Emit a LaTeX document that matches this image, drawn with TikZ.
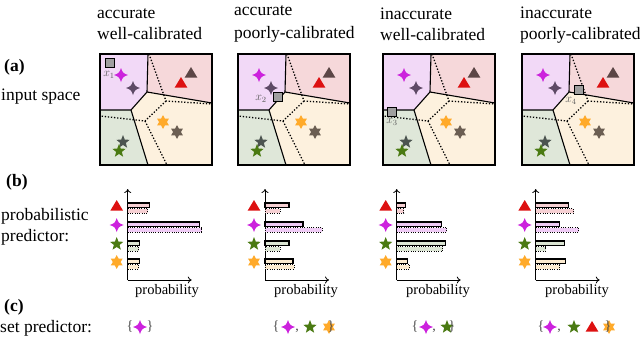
\documentclass[tikz,border=0pt]{standalone}
\usepackage{fontspec}
\setmainfont{Liberation Serif}
\usetikzlibrary{arrows.meta}
\definecolor{rPur}{HTML}{F2D9F7}
\definecolor{rPink}{HTML}{F6D8DA}
\definecolor{rGrn}{HTML}{DFE7D9}
\definecolor{rCrm}{HTML}{FDF1DE}
\definecolor{cMag}{HTML}{CC22DD}
\definecolor{cDPur}{HTML}{5E4A66}
\definecolor{cRed}{HTML}{DD1111}
\definecolor{cDTri}{HTML}{5C4646}
\definecolor{cOra}{HTML}{FFAA2A}
\definecolor{cDOra}{HTML}{6B5E52}
\definecolor{cGrn}{HTML}{4A7A12}
\definecolor{cDGrn}{HTML}{4C5450}
\definecolor{bTri}{HTML}{F6D0D3}
\definecolor{bFour}{HTML}{EFCBF5}
\definecolor{bFive}{HTML}{DCE6D4}
\definecolor{bSix}{HTML}{FCEBD0}
\newcommand\mkFour[2]{\fill[#2,shift={(#1)}] (0,-7) .. controls (1.9,-1.9) .. (7,0) .. controls (1.9,1.9) .. (0,7) .. controls (-1.9,1.9) .. (-7,0) .. controls (-1.9,-1.9) .. cycle;}
\newcommand\mkFive[2]{\fill[#2,shift={(#1)}] (-90:7)--(-54:3)--(-18:7)--(18:3)--(54:7)--(90:3)--(126:7)--(162:3)--(198:7)--(234:3)--cycle;}
\newcommand\mkSix[2]{\fill[#2,shift={(#1)}] (-90:6.9)--(-60:3.9)--(-30:6.9)--(0:3.9)--(30:6.9)--(60:3.9)--(90:6.9)--(120:3.9)--(150:6.9)--(180:3.9)--(210:6.9)--(240:3.9)--cycle;}
\newcommand\mkTri[2]{\fill[#2,shift={(#1)}] (0,-6)--(6.3,4.5)--(-6.3,4.5)--cycle;}
\newcommand\mkSq[1]{\draw[fill=gray!75,line width=0.8pt,shift={(#1)}] (-4.5,-4.5) rectangle (4.5,4.5);}
\newcommand\regionpanel[1]{%
\begin{scope}[shift={(#1,54)}]
\fill[rPur] (0,0)--(48,0)--(47,38)--(31,56)--(0,56)--cycle;
\fill[rPink] (48,0)--(112,0)--(112,49)--(47,38)--cycle;
\fill[rGrn] (0,56)--(31,56)--(48,111)--(0,111)--cycle;
\fill[rCrm] (47,38)--(112,49)--(112,111)--(48,111)--(31,56)--cycle;
\draw[dotline] (49,0)--(66,47)--(112,50);
\draw[dotline] (66,47)--(45,67)--(0,62);
\draw[dotline] (45,67)--(67,111);
\draw[solidline] (48,0)--(47,38)--(112,49);
\draw[solidline] (47,38)--(31,56)--(0,56);
\draw[solidline] (31,56)--(48,111);
\mkFour{21,21}{cMag}
\mkFour{33,34}{cDPur}
\mkTri{91,19}{cDTri}
\mkTri{81,29}{cRed}
\mkSix{63,68}{cOra}
\mkSix{77,78}{cDOra}
\mkFive{23,88}{cDGrn}
\mkFive{19,97}{cGrn}
\draw[line width=1.2pt] (0,0) rectangle (112,111);
\end{scope}}
\newcommand\probchart[9]{%
\begin{scope}[shift={(#1,0)}]
\draw[axisline] (0,280)--(0,189);
\draw[axisline] (0,280)--(64,280);
\mkTri{-11,206}{cRed}
\mkFour{-11,225}{cMag}
\mkFive{-11,244}{cGrn}
\mkSix{-11,262}{cOra}
\draw[dbar,fill=bTri] (0,208.5) rectangle (#3,213);
\draw[sbar,fill=bTri] (0,203) rectangle (#2,207.5);
\draw[dbar,fill=bFour] (0,227.5) rectangle (#5,232);
\draw[sbar,fill=bFour] (0,222) rectangle (#4,226.5);
\draw[dbar,fill=bFive] (0,246.5) rectangle (#7,251);
\draw[sbar,fill=bFive] (0,241) rectangle (#6,245.5);
\draw[dbar,fill=bSix] (0,264.5) rectangle (#9,269);
\draw[sbar,fill=bSix] (0,259) rectangle (#8,263.5);
\end{scope}}
\tikzset{
  txt/.style={inner sep=0pt, font=\fontsize{17.5}{20}\selectfont},
  plab/.style={inner sep=0pt, font=\fontsize{14.5}{16}\selectfont},
  xlab/.style={inner sep=0pt, text=black!65, font=\fontsize{12}{13}\selectfont},
  brace/.style={inner sep=0pt, text=black!70, font=\fontsize{14}{16}\selectfont},
  dotline/.style={line width=1.3pt, dash pattern=on 1.3pt off 1.8pt},
  solidline/.style={line width=1.1pt},
  axisline/.style={line width=0.8pt, -{To[length=4pt,width=7pt]}},
  sbar/.style={line width=1.1pt},
  dbar/.style={line width=1pt, dash pattern=on 1pt off 1.3pt}
}
\begin{document}
\begin{tikzpicture}[x=1pt,y=-1pt]
\useasboundingbox (0,0) rectangle (640,338);
% titles
\node[txt,anchor=base west] (t1a) at (97,18) {accurate};
\node[txt,anchor=base west] (t1b) at (97,39) {well-calibrated};
\node[txt,anchor=base west] (t2a) at (234,15) {accurate};
\node[txt,anchor=base west] (t2b) at (234,38) {poorly-calibrated};
\node[txt,anchor=base west] (t3a) at (380,19) {inaccurate};
\node[txt,anchor=base west] (t3b) at (380,40) {well-calibrated};
\node[txt,anchor=base west] (t4a) at (520,18) {inaccurate};
\node[txt,anchor=base west] (t4b) at (520,39) {poorly-calibrated};
% left labels
\node[txt,anchor=base west] (la) at (4,71) {\textbf{(a)}};
\node[txt,anchor=base west] (li) at (1,100) {input space};
\node[txt,anchor=base west] (lb) at (6,186) {\textbf{(b)}};
\node[txt,anchor=base west] (lp1) at (1,220) {probabilistic};
\node[txt,anchor=base west] (lp2) at (1,241) {predictor:};
\node[txt,anchor=base west] (lc) at (4,311) {\textbf{(c)}};
\node[txt,anchor=base west] (ls) at (0,332) {set predictor:};
% input space panels
\regionpanel{100}
\regionpanel{238}
\regionpanel{383}
\regionpanel{522}
\mkSq{110,63}
\node[xlab] (x1) at (109,75) {$x_1$};
\mkSq{278,97}
\node[xlab] (x2) at (261,99) {$x_2$};
\mkSq{392,112}
\node[xlab] (x3) at (392,122) {$x_3$};
\mkSq{579,90}
\node[xlab] (x4) at (571,101) {$x_4$};
% probabilistic predictors
\probchart{127.7}{22}{20}{72}{74}{12}{11}{12}{11}
\probchart{265}{24}{15}{38}{57}{24}{15}{28}{29}
\probchart{396.7}{9}{7}{45}{50}{49}{46}{11}{13}
\probchart{535.7}{33}{38}{24}{43}{29}{10}{30}{24}
\node[plab] (p1) at (167,291) {probability};
\node[plab] (p2) at (306,291) {probability};
\node[plab] (p3) at (438,291) {probability};
\node[plab] (p4) at (577,291) {probability};
% set predictors
\node[brace] (s1a) at (130,327) {\{};
\mkFour{140,327}{cMag}
\node[brace] (s1b) at (150,327) {\}};
\node[brace] (s2a) at (276,327) {\{};
\mkFour{288,327}{cMag}
\node[brace] (s2c) at (297,331) {,};
\mkFive{310,327}{cGrn}
\mkSix{329,327}{cOra}
\node[brace] (s2b) at (331,327) {\}};
\node[brace] (s3a) at (415,327) {\{};
\mkFour{426,327}{cMag}
\node[brace] (s3c) at (434,331) {,};
\mkFive{447,327}{cGrn}
\node[brace] (s3b) at (452,327) {\}};
\node[brace] (s4a) at (541,327) {\{};
\mkFour{550,327}{cMag}
\node[brace] (s4c) at (559,331) {,};
\mkFive{574,327}{cGrn}
\mkTri{592,327}{cRed}
\mkSix{609,327}{cOra}
\node[brace] (s4b) at (608,327) {\}};
\end{tikzpicture}
\end{document}
